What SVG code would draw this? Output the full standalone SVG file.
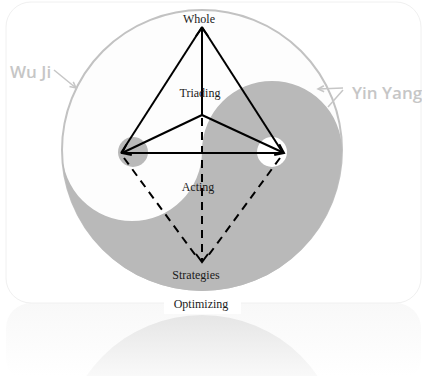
<svg xmlns="http://www.w3.org/2000/svg" width="422" height="376" viewBox="0 0 422 376">
<defs>
<style>
.lbl{font-family:"Liberation Serif","Times New Roman",serif;font-size:12px;fill:#1a1a1a;text-anchor:middle}
.big{font-family:"Open Sans","Liberation Sans",sans-serif;font-weight:600;font-size:17px;fill:#c6c6c6}
.edge{stroke:#000;stroke-width:2;fill:none}
.dash{stroke:#000;stroke-width:2;fill:none;stroke-dasharray:8 6}
.callout{stroke:#c6c6c6;stroke-width:1.5;fill:none}
</style>
<marker id="arr" markerUnits="userSpaceOnUse" markerWidth="12" markerHeight="14" refX="9" refY="7" orient="auto">
<path d="M1,1 L9,7 L1,13" fill="none" stroke="#000" stroke-width="2"/>
</marker>
<marker id="carr" markerUnits="userSpaceOnUse" markerWidth="10" markerHeight="10" refX="7" refY="5" orient="auto">
<path d="M1,2 L7,5 L1,8" fill="none" stroke="#c6c6c6" stroke-width="1.5"/>
</marker>
<linearGradient id="refl" x1="0" y1="316" x2="0" y2="376" gradientUnits="userSpaceOnUse">
<stop offset="0" stop-color="#e6e6e6"/>
<stop offset="1" stop-color="#f9f9f9"/>
</linearGradient>
<linearGradient id="cardrefl" x1="0" y1="303" x2="0" y2="376" gradientUnits="userSpaceOnUse">
<stop offset="0" stop-color="#f8f8f8"/>
<stop offset="1" stop-color="#ffffff"/>
</linearGradient>
</defs>
<rect width="422" height="376" fill="#fff"/>
<g id="reflection">
<rect x="6" y="303" width="415" height="80" rx="25" fill="url(#cardrefl)"/>
<circle cx="202" cy="455" r="140" fill="url(#refl)"/>
</g>
<g id="card">
<rect x="6" y="2" width="415" height="301" rx="25" fill="#fff" stroke="#f0f0f0" stroke-width="1"/>
</g>
<g id="wuji">
<circle cx="202" cy="150" r="140" fill="#fdfdfd" stroke="#c2c2c2" stroke-width="2"/>
</g>
<g id="yinyang">
<path d="M62,151 A140,140 0 0 0 342,151 A70,70 0 0 0 202,151 A70,70 0 0 1 62,151 Z" fill="#b9b9b9"/>
<circle cx="133" cy="152" r="15" fill="#b9b9b9"/>
<circle cx="272" cy="152" r="15" fill="#fff"/>
</g>
<g id="connectors">
<line class="edge" x1="202" y1="27" x2="121" y2="153"/>
<line class="edge" x1="202" y1="27" x2="283" y2="153"/>
<line class="edge" x1="121" y1="153" x2="283" y2="153"/>
<line class="edge" x1="202" y1="115" x2="202" y2="28" marker-end="url(#arr)"/>
<line class="edge" x1="202" y1="115" x2="122" y2="153" marker-end="url(#arr)"/>
<line class="edge" x1="202" y1="115" x2="284" y2="153" marker-end="url(#arr)"/>
<line class="dash" x1="202" y1="118" x2="202" y2="262" marker-end="url(#arr)"/>
<line class="dash" x1="124" y1="158" x2="196" y2="256"/>
<line class="dash" x1="280" y1="158" x2="208" y2="256"/>
<line class="callout" x1="54" y1="70" x2="76" y2="88" marker-end="url(#carr)"/>
<line class="callout" x1="343" y1="88" x2="318" y2="89" marker-end="url(#carr)"/>
<line class="callout" x1="343" y1="90" x2="328" y2="107"/>
</g>
<g id="n-whole"><text class="lbl" x="199" y="23">Whole</text></g>
<g id="n-triading"><text class="lbl" x="200" y="97">Triading</text></g>
<g id="n-acting"><text class="lbl" x="198" y="191">Acting</text></g>
<g id="n-strategies"><text class="lbl" x="196" y="279">Strategies</text></g>
<g id="n-optimizing"><rect x="164" y="300" width="77" height="14" fill="#fff"/><text class="lbl" x="201" y="308">Optimizing</text></g>
<g id="n-wuji"><text class="big" x="10" y="78">Wu Ji</text></g>
<g id="n-yinyang"><text class="big" x="352" y="99">Yin Yang</text></g>
</svg>
